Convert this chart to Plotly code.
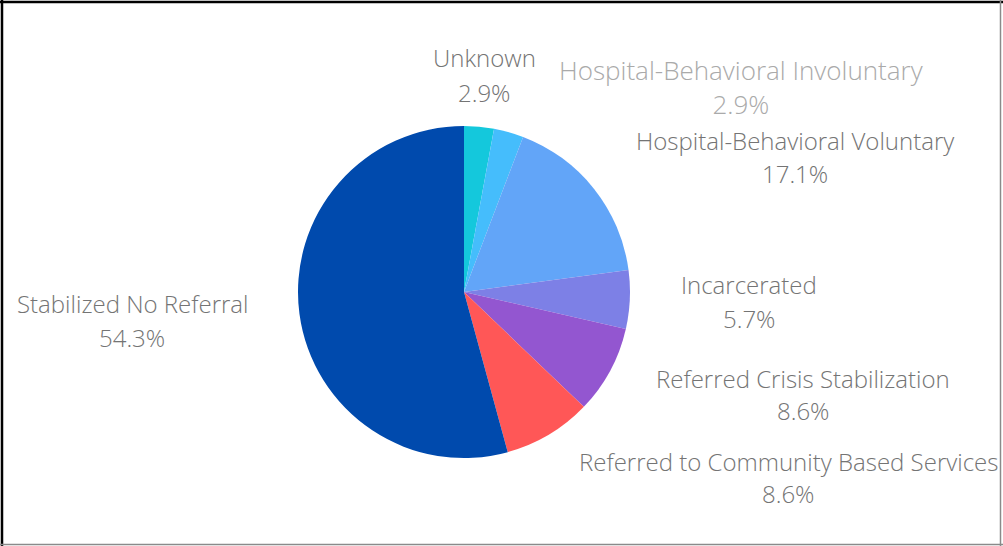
import plotly.graph_objects as go

# Data
categories = [
    "Unknown",
    "Hospital-Behavioral Involuntary",
    "Hospital-Behavioral Voluntary",
    "Incarcerated",
    "Referred Crisis Stabilization",
    "Referred to Community Based Services",
    "Stabilized No Referral",
]
values = [2.9, 2.9, 17.1, 5.7, 8.6, 8.6, 54.3]
pct_labels = ["2.9%", "2.9%", "17.1%", "5.7%", "8.6%", "8.6%", "54.3%"]

# Styles
slice_colors = ["#14C8DC", "#45BDFC", "#62A5F8", "#7D80E6", "#9356D0", "#FF5757", "#004AAD"]
text_colors = ["#747474", "#AAAAAA", "#747474", "#747474", "#747474", "#747474", "#747474"]
text_sizes = [24, 26, 24, 24, 24, 24, 24]
# label positions (pixel centre x, name line y, pct line y)
label_pos = [
    (484, 58, 92),
    (741, 71, 104),
    (795, 140, 173),
    (749, 284, 318),
    (803, 378, 410),
    (788, 461, 493),
    (132, 303, 337),
]
# labels drawn as a single two-line text block
single_block = [False, True, False, False, False, False, False]

W, H = 1003, 546
cx, cy, r = 464, 292, 166

fig = go.Figure(
    go.Pie(
        labels=categories,
        values=values,
        sort=False,
        direction="clockwise",
        rotation=0,
        marker=dict(colors=slice_colors, line=dict(width=0)),
        textinfo="none",
        hoverinfo="label+percent",
        domain=dict(
            x=[(cx - r) / W, (cx + r) / W],
            y=[(H - cy - r) / H, (H - cy + r) / H],
        ),
        showlegend=False,
    )
)

font_family = "Open Sans"
annotations = []
for cat, pct, col, sz, blk, (x, y1, y2) in zip(
    categories, pct_labels, text_colors, text_sizes, single_block, label_pos
):
    if blk:
        items = ((cat + "<br>" + pct, (y1 + y2) / 2),)
    else:
        items = ((cat, y1), (pct, y2))
    for txt, yy in items:
        annotations.append(
            dict(
                text=txt,
                x=x / W,
                y=1 - yy / H,
                xref="paper",
                yref="paper",
                xanchor="center",
                yanchor="middle",
                align="center",
                showarrow=False,
                borderpad=0,
                font=dict(family=font_family, size=sz, color=col, weight=300),
            )
        )

shapes = [
    dict(type="line", xref="paper", yref="paper", x0=2 / W, x1=2 / W, y0=0, y1=1,
         line=dict(color="#000000", width=2.5)),
    dict(type="line", xref="paper", yref="paper", x0=0, x1=1, y0=1 - 2 / H, y1=1 - 2 / H,
         line=dict(color="#000000", width=2.5)),
    dict(type="line", xref="paper", yref="paper", x0=1000.5 / W, x1=1000.5 / W, y0=0, y1=1,
         line=dict(color="#8A8A8A", width=1.5)),
    dict(type="line", xref="paper", yref="paper", x0=0, x1=1, y0=1.5 / H, y1=1.5 / H,
         line=dict(color="#8A8A8A", width=1.5)),
]

fig.update_layout(
    width=W,
    height=H,
    margin=dict(l=0, r=0, t=0, b=0),
    paper_bgcolor="white",
    plot_bgcolor="white",
    annotations=annotations,
    shapes=shapes,
    font=dict(family=font_family),
)

fig.write_html(
    "out.html",
    config={"displayModeBar": False},
    post_script="document.body.style.margin='0';document.body.style.overflow='hidden';",
)
